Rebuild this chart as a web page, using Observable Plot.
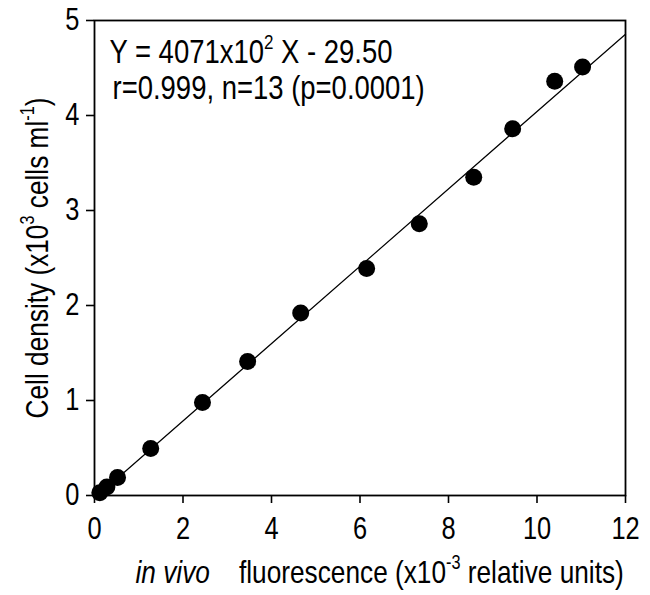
<!DOCTYPE html>
<html><head><meta charset="utf-8">
<script src="https://cdn.jsdelivr.net/npm/d3@7"></script>
<script src="https://cdn.jsdelivr.net/npm/@observablehq/plot@0.6"></script>
<style>
html,body{margin:0;padding:0;background:#fff;}
svg text{white-space:pre;}
</style></head><body><div id="chart"></div>
<script>
// ---- data ----
const fluorescence = [0.12, 0.28, 0.52, 1.27, 2.44, 3.46, 4.66, 6.15, 7.34, 8.57, 9.45, 10.4, 11.03];
const cellDensity  = [0.03, 0.09, 0.19, 0.495, 0.98, 1.41, 1.92, 2.39, 2.86, 3.35, 3.86, 4.36, 4.51];
const xTicks = [0, 2, 4, 6, 8, 10, 12];
const yTicks = [0, 1, 2, 3, 4, 5];
const xDomain = [0, 12];
const yDomain = [0, 5];
const fitSlope = 0.4071;      // 4071x10^2 cells/ml per unit, expressed in x10^3 cells/ml per 10^3 units
const fitIntercept = -0.0295; // -29.50 cells/ml expressed in x10^3 cells/ml
const annotationLines = ["Y = 4071x10^{2} X - 29.50", "r=0.999, n=13 (p=0.0001)"];
const xLabel = "_{in vivo}    fluorescence (x10^{-3} relative units)";
const yLabel = "Cell density (x10^{3} cells ml^{-1})";

const FONT = '"Liberation Sans", Arial, sans-serif';
const NARROW = 0.82; // Helvetica-Narrow look

const points = fluorescence.map((x, i) => ({x, y: cellDensity[i]}));
const fitXs = [-fitIntercept / fitSlope, xDomain[1]];
const fitLine = fitXs.map(x => ({x, y: fitSlope * x + fitIntercept}));

function segments(s) {
  return s.split(/(\^\{[^}]*\}|_\{[^}]*\})/).filter(p => p.length).map(p => {
    if (p.startsWith("^{")) return {t: p.slice(2, -1), sup: true};
    if (p.startsWith("_{")) return {t: p.slice(2, -1), it: true};
    return {t: p};
  });
}
const plain = s => segments(s).map(d => d.t).join("");

const plot = Plot.plot({
  width: 650, height: 595,
  marginLeft: 94, marginRight: 25, marginTop: 20, marginBottom: 100,
  style: {fontFamily: FONT, fontSize: "31px", background: "white", color: "black"},
  x: {domain: xDomain},
  y: {domain: yDomain},
  marks: [
    Plot.line(fitLine, {x: "x", y: "y", stroke: "black", strokeWidth: 1.2}),
    Plot.dot(points, {x: "x", y: "y", r: 8.5, fill: "black", stroke: null}),
    Plot.frame({stroke: "black", strokeWidth: 1.8}),
    Plot.axisX({ticks: xTicks, tickFormat: d => String(d), tickSize: 8, tickPadding: 13, label: null, strokeWidth: 1.6, fontSize: 31, fontVariant: "normal"}),
    Plot.axisY({ticks: yTicks, tickFormat: d => String(d), tickSize: 8, tickPadding: 7, label: null, strokeWidth: 1.6, fontSize: 31, fontVariant: "normal"}),
    Plot.text([plain(annotationLines[0])], {text: d => d, frameAnchor: "top-left", textAnchor: "start", lineAnchor: "top", dx: 15, dy: 19, fontSize: 33.5}),
    Plot.text([plain(annotationLines[1])], {text: d => d, frameAnchor: "top-left", textAnchor: "start", lineAnchor: "top", dx: 18, dy: 55, fontSize: 33.5}),
    Plot.text([plain(xLabel)], {text: d => d, frameAnchor: "bottom-left", textAnchor: "start", lineAnchor: "bottom", dx: 41, dy: 87, fontSize: 32}),
    Plot.text([plain(yLabel)], {text: d => d, frameAnchor: "left", textAnchor: "middle", lineAnchor: "bottom", rotate: -90, dx: -47, fontSize: 32})
  ]
});
document.getElementById("chart").appendChild(plot);

// rich text: superscripts and italics
const rich = [...annotationLines, xLabel, yLabel];
d3.select(plot).selectAll("text").each(function() {
  const el = this;
  // narrow the glyphs horizontally (along the text direction)
  const tr = el.getAttribute("transform");
  el.setAttribute("transform", (tr ? tr + " " : "") + `scale(${NARROW},1)`);
  const src = rich.find(s => plain(s) === el.textContent);
  if (!src) return;
  const base = parseFloat(getComputedStyle(el).fontSize) || 31;
  const sel = d3.select(el);
  sel.text(null);
  let raised = false;
  for (const seg of segments(src)) {
    const ts = sel.append("tspan").text(seg.t);
    if (seg.sup) {
      ts.attr("font-size", (base * 0.62) + "px");
      if (!raised) ts.attr("dy", (-base * 0.42) + "px");
      raised = true;
    } else {
      if (raised) ts.attr("dy", (base * 0.42) + "px");
      raised = false;
      if (seg.it) ts.attr("font-style", "italic");
    }
  }
});
</script>
</body></html>
